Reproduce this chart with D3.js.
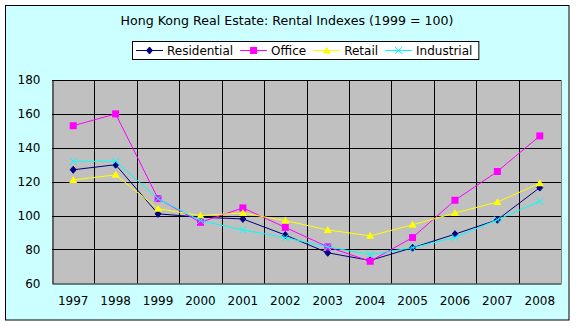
<!DOCTYPE html>
<html><head><meta charset="utf-8">
<script src="https://cdn.jsdelivr.net/npm/d3@7"></script>
<style>body{margin:0;background:#fff}text{font-family:"DejaVu Sans",Verdana,sans-serif}</style>
</head><body><svg id="c" width="576" height="326"></svg>
<script>
const title = "Hong Kong Real Estate: Rental Indexes (1999 = 100)";
const years = ["1997","1998","1999","2000","2001","2002","2003","2004","2005","2006","2007","2008"];
const seriesNames = ["Residential","Office","Retail","Industrial"];
const residential = [127,130,101,99,98,88.5,78,73.5,81,89,97.5,116.5];
const office = [153,160,110,96,104.5,93,81.5,73,87,109,126,147];
const retail = [121,124,104,100,101.5,97,91.5,88,94.5,101.5,108,119];
const industrial = [132,132,110,97,91.5,87,81.5,77,81,87,97.5,108.5];
const yTicks = [60,80,100,120,140,160,180];
const colors = ["#000080","#FF00FF","#FFFF00","#00FFFF"];
const symbols = ["diamond","square","triangle","cross"];
const values = [residential, office, retail, industrial];

const svg = d3.select("#c");
const P = {l:52, r:561, t:80, b:283.3};
svg.append("rect").attr("x",5.5).attr("y",5.5).attr("width",563.5).attr("height",314.5)
  .attr("fill","#CCFFFF").attr("stroke","#000").attr("stroke-width",1);

const x = d3.scaleBand().domain(years).range([P.l,P.r]);
const y = d3.scaleLinear().domain([60,180]).range([P.b,P.t]);

svg.append("rect").attr("x",P.l).attr("y",P.t).attr("width",P.r-P.l).attr("height",P.b-P.t).attr("fill","#C0C0C0");
svg.append("line").attr("x1",P.r+0.5).attr("x2",P.r+0.5).attr("y1",P.t).attr("y2",P.b).attr("stroke","#808080");
svg.append("g").selectAll("line").data(yTicks.filter(d=>d>60)).join("line")
  .attr("x1",P.l).attr("x2",P.r).attr("y1",d=>Math.round(y(d))+0.5).attr("y2",d=>Math.round(y(d))+0.5)
  .attr("stroke","#000");
svg.append("g").selectAll("line").data(years.slice(1)).join("line")
  .attr("x1",d=>Math.round(x(d))+0.5).attr("x2",d=>Math.round(x(d))+0.5).attr("y1",P.t).attr("y2",P.b)
  .attr("stroke","#000");

const yAxis = d3.axisLeft(y).tickValues(yTicks).tickSize(0).tickPadding(12);
const gy = svg.append("g").attr("transform",`translate(${P.l+0.5},0)`).call(yAxis);
gy.select(".domain").attr("stroke","#000");
gy.selectAll("text").attr("font-size",12).attr("fill","#000").attr("font-family","DejaVu Sans");
const xAxis = d3.axisBottom(x).tickSize(0).tickPadding(13);
const gx = svg.append("g").attr("transform",`translate(0,${Math.round(P.b)+0.5})`).call(xAxis);
gx.select(".domain").attr("stroke","#000");
gx.selectAll("text").attr("font-size",12).attr("fill","#000").attr("font-family","DejaVu Sans");

function marker(g, type, color, cx, cy){
  if(type==="diamond"){
    g.append("path").attr("d",`M${cx},${cy-3.5}L${cx+3},${cy}L${cx},${cy+3.5}L${cx-3},${cy}Z`).attr("fill",color).attr("stroke",color);
  } else if(type==="square"){
    g.append("rect").attr("x",cx-3.5).attr("y",cy-3.5).attr("width",7).attr("height",7).attr("fill",color);
  } else if(type==="triangle"){
    g.append("path").attr("d",`M${cx},${cy-4}L${cx+4},${cy+3}L${cx-4},${cy+3}Z`).attr("fill",color);
  } else {
    g.append("path").attr("d",`M${cx-3.5},${cy-3.5}L${cx+3.5},${cy+3.5}M${cx+3.5},${cy-3.5}L${cx-3.5},${cy+3.5}`).attr("stroke",color).attr("stroke-width",1);
  }
}

const line = d3.line().x((d,i)=>x(years[i])+x.bandwidth()/2).y(d=>y(d));
values.forEach((vals,k)=>{
  const g = svg.append("g");
  g.append("path").attr("d",line(vals)).attr("fill","none").attr("stroke",colors[k]).attr("stroke-width",1);
  vals.forEach((v,i)=>marker(g, symbols[k], colors[k], x(years[i])+x.bandwidth()/2, y(v)));
});

svg.append("text").attr("x",287).attr("y",25).attr("text-anchor","middle").attr("font-size",12.6).attr("fill","#000").text(title);

const lg = svg.append("g");
const box = lg.append("rect").attr("y",41.5).attr("height",18).attr("fill","#fff").attr("stroke","#000");
let cx = 4;
seriesNames.forEach((n,k)=>{
  const it = lg.append("g");
  it.append("line").attr("x1",cx).attr("x2",cx+27).attr("y1",50.5).attr("y2",50.5).attr("stroke",colors[k]);
  marker(it, symbols[k], colors[k], cx+13.5, 50.5);
  const t = it.append("text").attr("x",cx+31).attr("y",55).attr("font-size",12).attr("fill","#000").text(n);
  cx += 31 + t.node().getComputedTextLength() + 7;
});
const bw = cx - 7 + 6;
const left = Math.round(305.5 - bw/2);
lg.selectAll("g").attr("transform",`translate(${left},0)`);
box.attr("x",left+0.5).attr("width",bw);
</script></body></html>
